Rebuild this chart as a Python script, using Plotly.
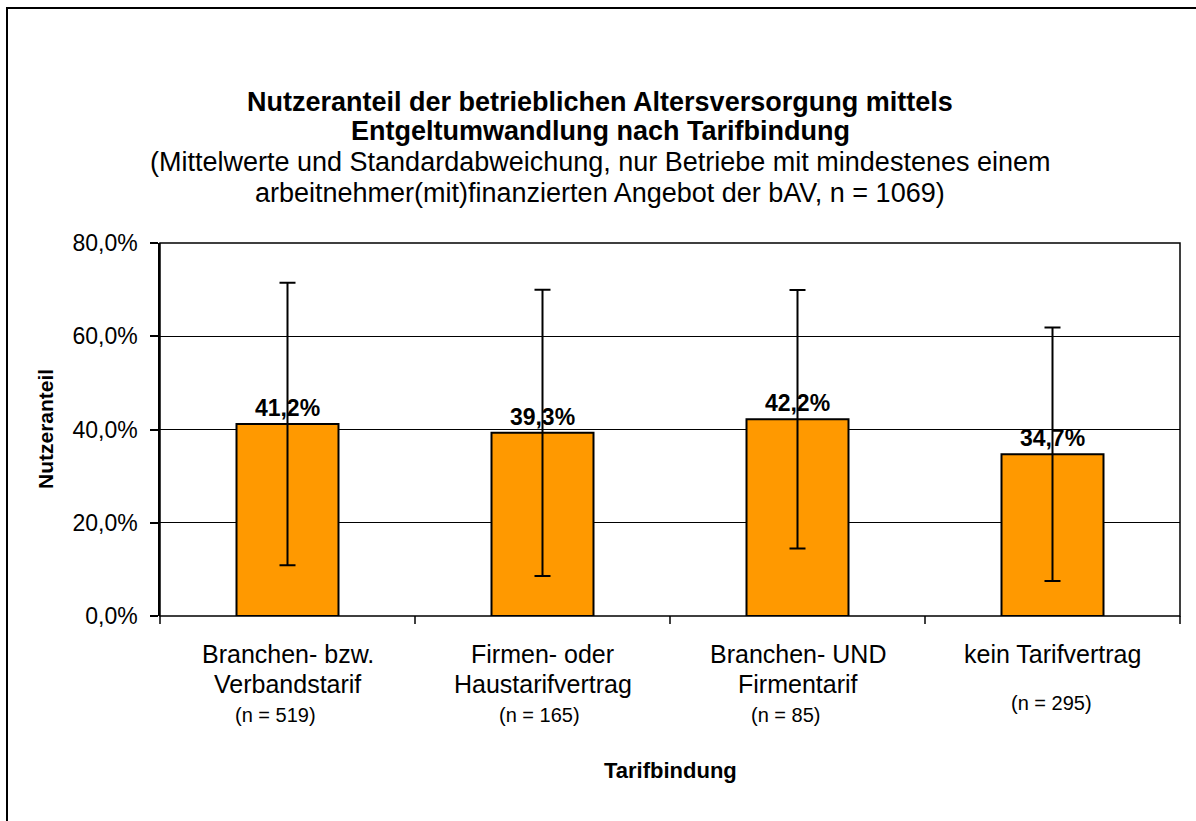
import plotly.graph_objects as go

categories = ["Branchen- bzw.<br>Verbandstarif", "Firmen- oder<br>Haustarifvertrag",
              "Branchen- UND<br>Firmentarif", "kein Tarifvertrag"]
n_labels = ["(n = 519)", "(n = 165)", "(n = 85)", "(n = 295)"]
means = [41.2, 39.3, 42.2, 34.7]
std_dev = [30.3, 30.7, 27.7, 27.2]
y_ticks = [0, 20, 40, 60, 80]

W, H = 1196, 821
L, R, T, B = 160, 1180, 243, 616
pw, ph = R - L, B - T
FONT = "Arial, Liberation Sans"


def px(x):
    return (x - L) / pw


def py(y):
    return (B - y) / ph


xs = list(range(len(categories)))

fig = go.Figure()
fig.add_trace(go.Bar(
    x=xs, y=means, width=0.40,
    marker=dict(color="#FF9900", line=dict(color="black", width=2)),
    error_y=dict(type="data", array=std_dev, visible=True, color="black",
                 thickness=2, width=8),
    text=[f"{v:.1f}%".replace(".", ",") for v in means],
    textposition="outside", cliponaxis=False,
    textfont=dict(family=FONT, size=23, color="black", weight="bold"),
    showlegend=False,
))

# category labels (each line placed separately)
n_xshift = [-12, -3, -12, -1]
for i, c in enumerate(categories):
    lines = c.split("<br>")
    for j, ln in enumerate(lines):
        fig.add_annotation(x=i, y=py(654 + 30 * j), xref="x", yref="paper", text=ln,
                           showarrow=False, yanchor="middle",
                           font=dict(family=FONT, size=25, color="black"))
    ny = 715 if len(lines) == 2 else 703
    fig.add_annotation(x=i, y=py(ny), xref="x", yref="paper", text=n_labels[i], showarrow=False,
                       yanchor="middle", xshift=n_xshift[i],
                       font=dict(family=FONT, size=20, color="black"))

# axis title x
fig.add_annotation(x=0.5, y=py(770), xref="paper", yref="paper", text="<b>Tarifbindung</b>",
                   showarrow=False, yanchor="middle",
                   font=dict(family=FONT, size=22, color="black"))
# axis title y
fig.add_annotation(x=px(45), y=py(429), xref="paper", yref="paper", text="<b>Nutzeranteil</b>",
                   showarrow=False, textangle=-90, xanchor="center", yanchor="middle",
                   font=dict(family=FONT, size=21, color="black"))

# title lines
title_lines = [
    ("<b>Nutzeranteil der betrieblichen Altersversorgung mittels</b>", 102),
    ("<b>Entgeltumwandlung nach Tarifbindung</b>", 131),
    ("(Mittelwerte und Standardabweichung, nur Betriebe mit mindestenes einem", 162),
    ("arbeitnehmer(mit)finanzierten Angebot der bAV, n = 1069)", 193),
]
for t, yy in title_lines:
    fig.add_annotation(x=px(W / 2 + 2), y=py(yy), xref="paper", yref="paper", text=t,
                       showarrow=False, yanchor="middle", xanchor="center",
                       font=dict(family=FONT, size=27, color="black"))

# outer border (left and top visible)
fig.add_shape(type="line", xref="paper", yref="paper", x0=px(7), x1=px(7), y0=py(7), y1=py(821),
              line=dict(color="black", width=2))
fig.add_shape(type="line", xref="paper", yref="paper", x0=px(7), x1=px(1196), y0=py(8), y1=py(8),
              line=dict(color="black", width=2))
# plot area border
fig.add_shape(type="rect", xref="paper", yref="paper", x0=0, x1=1, y0=0, y1=1,
              line=dict(color="black", width=1.5), layer="above")
# category boundary tick marks
for k in range(len(categories) + 1):
    fig.add_shape(type="line", xref="paper", yref="paper", x0=k / len(categories), x1=k / len(categories),
                  y0=0, y1=py(624), line=dict(color="black", width=1.5))

fig.update_layout(
    width=W, height=H,
    margin=dict(l=L, r=W - R, t=T, b=H - B),
    paper_bgcolor="white", plot_bgcolor="white",
    separators=",.",
    font=dict(family=FONT, color="black"),
    xaxis=dict(range=[-0.5, 3.5], showticklabels=False, ticks="", showgrid=False, zeroline=False,
               showline=False),
    yaxis=dict(range=[0, 80], tickvals=y_ticks, ticktext=[f"{v:.1f}%".replace(".", ",") for v in y_ticks],
               showgrid=True, gridcolor="black", gridwidth=1, zeroline=False,
               showline=True, linecolor="black", linewidth=1.5, ticks="outside", ticklen=8,
               tickcolor="black", tickwidth=1.5, ticklabelstandoff=8,
               tickfont=dict(family=FONT, size=23, color="black")),
)

fig.write_html("out.html", config={"displayModeBar": False},
               post_script="document.body.style.margin='0px';")
